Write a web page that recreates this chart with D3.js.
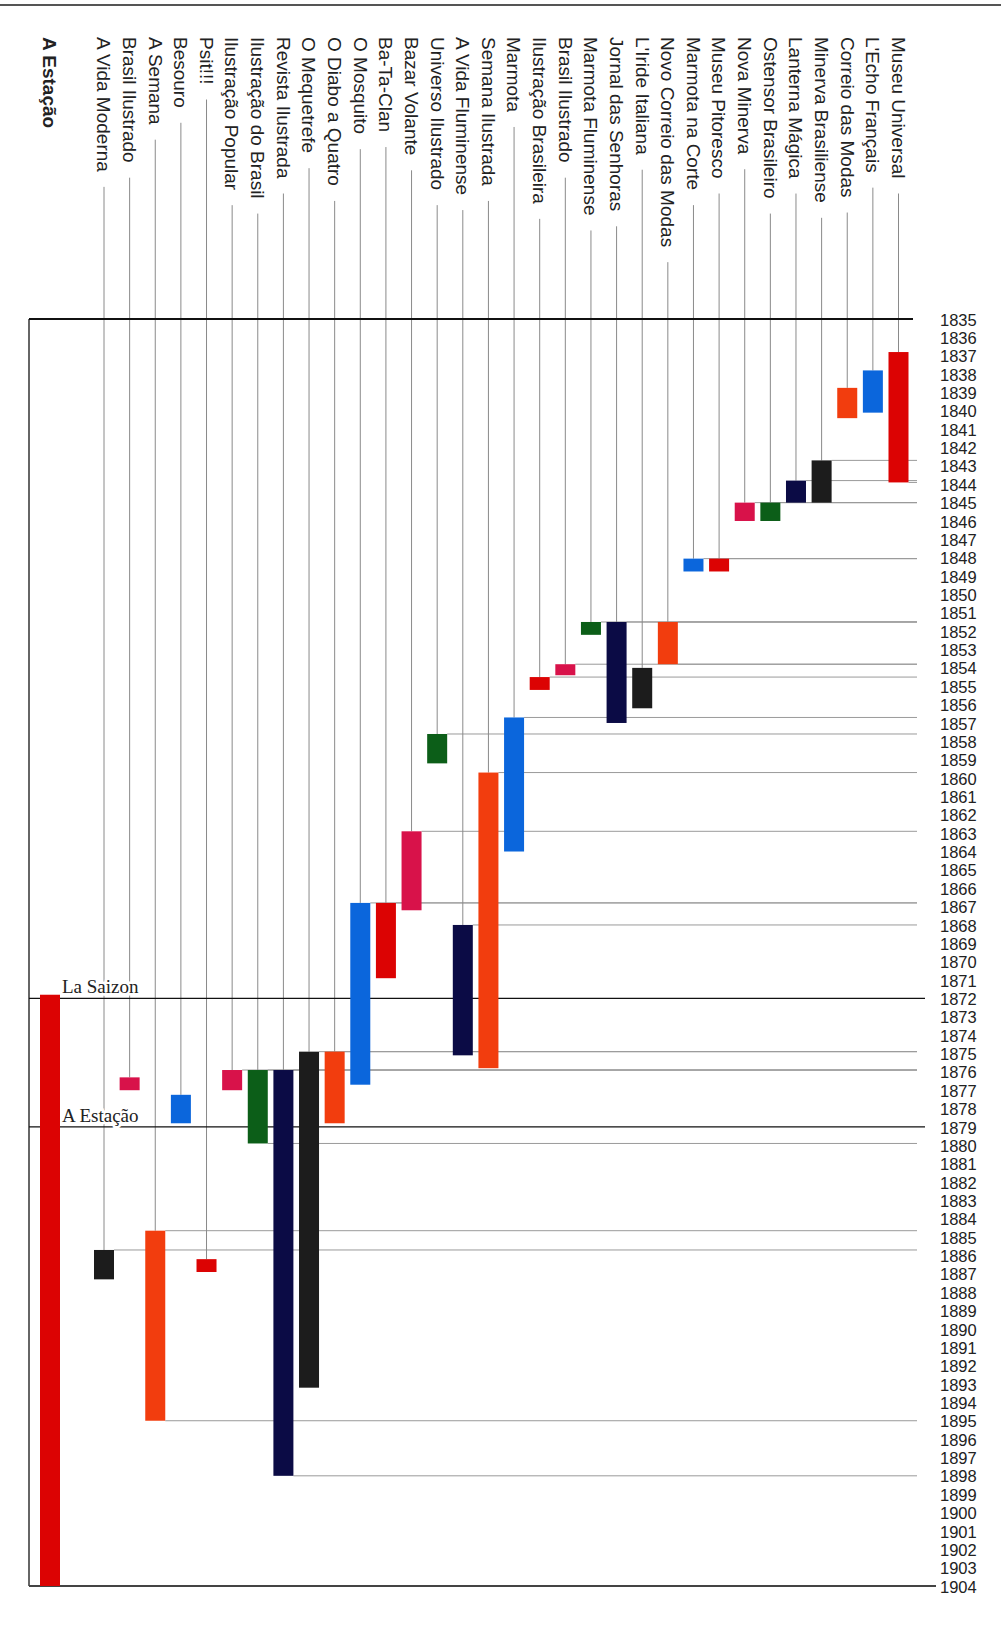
<!DOCTYPE html>
<html>
<head>
<meta charset="utf-8">
<script src="https://cdn.jsdelivr.net/npm/d3@7"></script>
<style>
  body { margin: 0; background: #fff; }
</style>
</head>
<body>
<svg id="chart" width="1001" height="1626"></svg>
<script>
// periodicals, left to right
const titles = [
  "A Vida Moderna", "Brasil Ilustrado", "A Semana", "Besouro", "Psit!!!",
  "Ilustração Popular", "Ilustração do Brasil", "Revista Ilustrada", "O Mequetrefe",
  "O Diabo a Quatro", "O Mosquito", "Ba-Ta-Clan", "Bazar Volante", "Universo Ilustrado",
  "A Vida Fluminense", "Semana Ilustrada", "Marmota", "Ilustração Brasileira",
  "Brasil Ilustrado", "Marmota Fluminense", "Jornal das Senhoras", "L'Iride Italiana",
  "Novo Correio das Modas", "Marmota na Corte", "Museu Pitoresco", "Nova Minerva",
  "Ostensor Brasileiro", "Lanterna Mágica", "Minerva Brasiliense", "Correio das Modas",
  "L'Echo Français", "Museu Universal"
];
const startYears = [
  1885.7, 1876.3, 1884.65, 1877.25, 1886.2,
  1875.9, 1875.9, 1875.9, 1874.9,
  1874.9, 1866.8, 1866.8, 1862.9, 1857.6,
  1868.0, 1859.7, 1856.7, 1854.5,
  1853.8, 1851.5, 1851.5, 1854.0,
  1851.5, 1848.05, 1848.05, 1845.0,
  1845.0, 1843.8, 1842.7, 1838.75,
  1837.8, 1836.8
];
const endYears = [
  1887.3, 1877.0, 1895.0, 1878.8, 1886.9,
  1877.0, 1879.9, 1898.0, 1893.2,
  1878.8, 1876.7, 1870.9, 1867.2, 1859.2,
  1875.1, 1875.8, 1864.0, 1855.2,
  1854.4, 1852.2, 1857.0, 1856.2,
  1853.8, 1848.75, 1848.75, 1846.0,
  1846.0, 1845.0, 1845.0, 1840.4,
  1840.1, 1843.9
];
const colorKeys = [
  "black", "crimson", "vermilion", "blue", "red",
  "crimson", "green", "navy", "black",
  "vermilion", "blue", "red", "crimson", "green",
  "navy", "vermilion", "blue", "red",
  "crimson", "green", "navy", "black",
  "vermilion", "blue", "red", "crimson",
  "green", "navy", "black", "vermilion",
  "blue", "red"
];
// which bars get a guide line to the year axis
const noStartGuide = [1, 3, 4, 21, 29, 30, 31];
const endGuide = [2, 6, 7, 22, 28, 31];

const mainTitle = "A Estação";
const mainStart = 1871.8;
const mainEnd = 1904;

const yearTicks = d3.range(1835, 1905);
const annotationLabels = ["La Saizon", "A Estação"];
const annotationYears = [1872, 1879];

// layout
const svg = d3.select("#chart");
const y = d3.scaleLinear().domain([1835, 1904]).range([319, 1586]);
const x = d3.scalePoint().domain(d3.range(titles.length)).range([104, 898.5]);
const color = d3.scaleOrdinal()
  .domain(["red", "vermilion", "blue", "black", "navy", "green", "crimson"])
  .range(["#dc0303", "#f23d0e", "#0b66dc", "#1c1c1c", "#0b0b45", "#0c5e18", "#d8124a"]);
const barW = 20;
const frameLeft = 29;
const mainX = 50;
const labelTop = 37;

// top border
svg.append("line")
  .attr("x1", 0).attr("x2", 1001).attr("y1", 5).attr("y2", 5)
  .attr("stroke", "#555").attr("stroke-width", 2);

// guide lines from bars to the axis (behind everything)
const guides = svg.append("g").attr("stroke", "#9a9a9a").attr("stroke-width", 1);
titles.forEach((t, i) => {
  if (!noStartGuide.includes(i)) {
    guides.append("line")
      .attr("x1", x(i) + barW / 2).attr("x2", 917)
      .attr("y1", y(startYears[i])).attr("y2", y(startYears[i]));
  }
  if (endGuide.includes(i)) {
    guides.append("line")
      .attr("x1", x(i) + barW / 2).attr("x2", 917)
      .attr("y1", y(endYears[i])).attr("y2", y(endYears[i]));
  }
});

// column labels, rotated
const labels = svg.append("g")
  .attr("font-family", "'Liberation Sans', Arial, sans-serif")
  .attr("font-size", 19)
  .attr("fill", "#222");

const lineG = svg.append("g").attr("stroke", "#8a8a8a").attr("stroke-width", 1);

titles.forEach((t, i) => {
  const txt = labels.append("text")
    .attr("transform", `translate(${x(i)},${labelTop}) rotate(90)`)
    .attr("dy", "0.35em")
    .text(t);
  const len = txt.node().getComputedTextLength();
  lineG.append("line")
    .attr("x1", x(i)).attr("x2", x(i))
    .attr("y1", labelTop + len + 15)
    .attr("y2", y(startYears[i]));
});

labels.append("text")
  .attr("transform", `translate(${mainX},${labelTop}) rotate(90)`)
  .attr("dy", "0.35em")
  .attr("font-weight", "bold")
  .text(mainTitle);

// frame
svg.append("line")
  .attr("x1", frameLeft).attr("x2", frameLeft)
  .attr("y1", y(1835)).attr("y2", y(1904))
  .attr("stroke", "#333").attr("stroke-width", 1.5);
svg.append("line")
  .attr("x1", frameLeft).attr("x2", 913)
  .attr("y1", y(1835)).attr("y2", y(1835))
  .attr("stroke", "#111").attr("stroke-width", 2);
svg.append("line")
  .attr("x1", frameLeft).attr("x2", 936)
  .attr("y1", y(1904)).attr("y2", y(1904))
  .attr("stroke", "#444").attr("stroke-width", 2);

// annotation lines
annotationYears.forEach((yr, k) => {
  svg.append("line")
    .attr("x1", frameLeft).attr("x2", 925)
    .attr("y1", y(yr)).attr("y2", y(yr))
    .attr("stroke", "#111").attr("stroke-width", 1.3);
  svg.append("text")
    .attr("x", 62).attr("y", y(yr) - 5)
    .attr("font-family", "'Liberation Serif', 'Times New Roman', serif")
    .attr("font-size", 19)
    .attr("fill", "#222")
    .attr("stroke", "#fff").attr("stroke-width", 5)
    .attr("paint-order", "stroke")
    .text(annotationLabels[k]);
});

// bars
svg.append("g")
  .selectAll("rect")
  .data(titles.map((t, i) => i))
  .join("rect")
  .attr("x", i => x(i) - barW / 2)
  .attr("y", i => y(startYears[i]))
  .attr("width", barW)
  .attr("height", i => y(endYears[i]) - y(startYears[i]))
  .attr("fill", i => color(colorKeys[i]));

svg.append("rect")
  .attr("x", mainX - barW / 2)
  .attr("y", y(mainStart))
  .attr("width", barW)
  .attr("height", y(mainEnd) - y(mainStart))
  .attr("fill", color("red"));

// year labels
svg.append("g")
  .attr("font-family", "'Liberation Sans', Arial, sans-serif")
  .attr("font-size", 16.5)
  .attr("fill", "#222")
  .selectAll("text")
  .data(yearTicks)
  .join("text")
  .attr("x", 940)
  .attr("y", d => y(d))
  .attr("dy", "0.4em")
  .text(d => d);
</script>
</body>
</html>
